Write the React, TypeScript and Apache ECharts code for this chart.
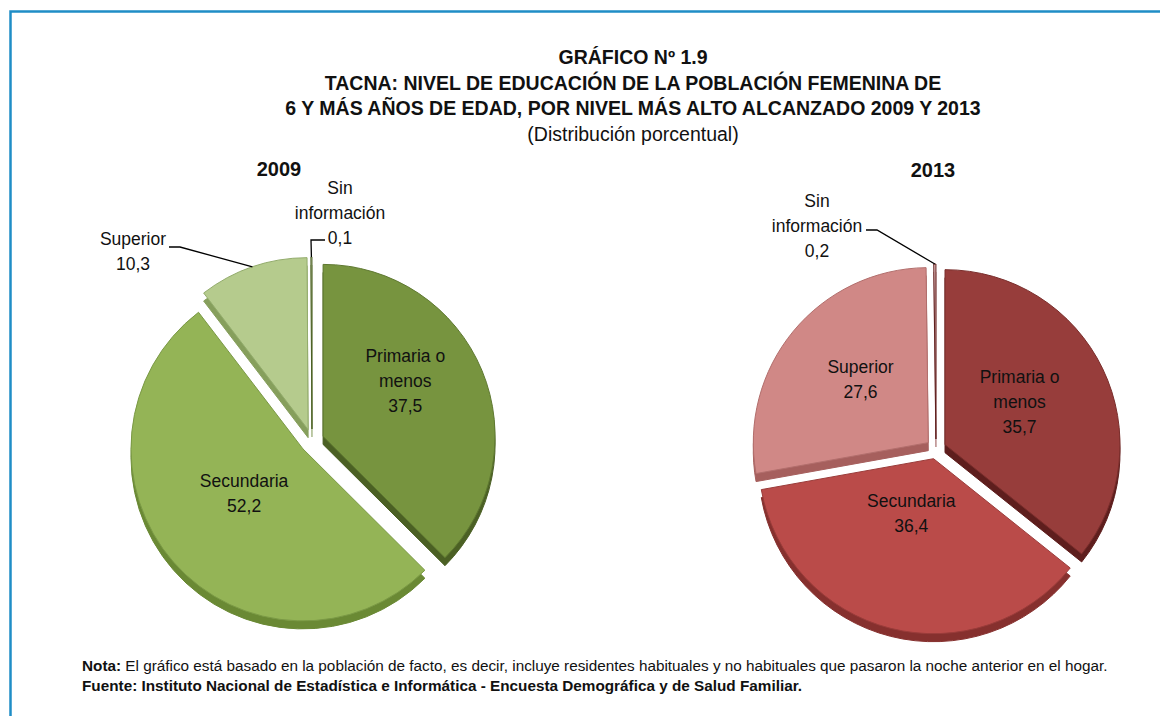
import React, { useEffect, useRef } from 'react';
import * as echarts from 'echarts';

// ---------------- data ----------------
const categories = ['Primaria o menos', 'Secundaria', 'Superior', 'Sin información'];
const sliceLabels = ['Primaria o\nmenos', 'Secundaria', 'Superior', 'Sin\ninformación'];
const years = ['2009', '2013'];
const values2009 = [37.5, 52.2, 10.3, 0.1];
const values2013 = [35.7, 36.4, 27.6, 0.2];

const titleLines = [
  'GRÁFICO Nº 1.9',
  'TACNA: NIVEL DE EDUCACIÓN DE LA POBLACIÓN FEMENINA DE',
  '6 Y MÁS AÑOS DE EDAD, POR NIVEL MÁS ALTO ALCANZADO 2009 Y 2013',
];
const subtitle = '(Distribución porcentual)';
const noteLabel = 'Nota:';
const noteText =
  ' El gráfico está basado en la población de facto, es decir, incluye residentes habituales y no habituales que pasaron la noche anterior en el hogar.';
const sourceText =
  'Fuente: Instituto Nacional de Estadística e Informática - Encuesta Demográfica y de Salud Familiar.';

// ---------------- styles / layout ----------------
const FONT = '"Liberation Sans", Arial, Helvetica, sans-serif';

type Callout = { pos: number[]; bend: number[]; end: number[] };

const pies = [
  {
    values: values2009,
    top: ['#77943F', '#94B456', '#B5CB8D', '#DCE6C8'],
    side: ['#4B6024', '#6A8934', '#869F5C', '#A8B88A'],
    border: ['#5E7830', '#7A9945', '#93AC6C', '#4B6024'],
    center: [312, 441],
    radius: 172,
    offset: 12,
    inside: { 0: [0, -21], 1: [8, -14] } as Record<number, number[]>,
    outside: {
      2: { pos: [133, 251], bend: [180, 247], end: [169, 247] },
      3: { pos: [340, 213], bend: [311, 240], end: [325, 240] },
    } as Record<number, Callout>,
    heading: [279, 169],
  },
  {
    values: values2013,
    top: ['#973D3B', '#BA4B49', '#D08886', '#E8C0BF'],
    side: ['#5E1E1D', '#86302E', '#A65F5D', '#B88A8A'],
    border: ['#7A2E2C', '#9A3C3A', '#B26E6C', '#5E1E1D'],
    center: [936, 449],
    radius: 175,
    offset: 10,
    inside: { 0: [-7, -3], 1: [0, -33], 2: [2, -6] } as Record<number, number[]>,
    outside: {
      3: { pos: [817, 226], bend: [877, 230], end: [866, 230] },
    } as Record<number, Callout>,
    heading: [933, 170],
  },
];

const fmt = (v: number) => v.toFixed(1).replace('.', ',');
const labelText = (i: number, v: number) => `${sliceLabels[i]}\n${fmt(v)}`;

const labelFont = {
  fontFamily: FONT,
  fontSize: 17.5,
  lineHeight: 25,
  color: '#111',
};

function buildSeries() {
  const series: any[] = [];
  pies.forEach((p, k) => {
    // depth (3D side) layer
    series.push({
      type: 'pie',
      name: years[k] + '-depth',
      center: [p.center[0], p.center[1] + 8],
      radius: p.radius,
      startAngle: 90,
      clockwise: true,
      selectedMode: 'multiple',
      selectedOffset: p.offset,
      silent: true,
      z: 1,
      label: { show: false },
      labelLine: { show: false },
      emphasis: { disabled: true },
      data: p.values.map((v, i) => ({
        name: categories[i],
        value: v,
        selected: true,
        itemStyle: { color: p.side[i], borderColor: p.side[i], borderWidth: 1 },
      })),
    });
    // top face layer
    series.push({
      type: 'pie',
      name: years[k],
      center: p.center,
      radius: p.radius,
      startAngle: 90,
      clockwise: true,
      selectedMode: 'multiple',
      selectedOffset: p.offset,
      avoidLabelOverlap: false,
      z: 2,
      emphasis: { disabled: true },
      label: {
        show: true,
        position: 'inside',
        align: 'center',
        ...labelFont,
        formatter: (prm: any) => labelText(prm.dataIndex, prm.value),
      },
      labelLine: { show: false },
      labelLayout: (prm: any) => {
        const d = p.inside[prm.dataIndex];
        return d ? { dx: d[0], dy: d[1] } : {};
      },
      data: p.values.map((v, i) => ({
        name: categories[i],
        value: v,
        selected: true,
        itemStyle: { color: p.top[i], borderColor: p.border[i], borderWidth: 1 },
        label: { show: p.outside[i] == null },
      })),
    });
    // callout layer (labels with leader lines for the thin slices)
    series.push({
      type: 'pie',
      name: years[k] + '-callouts',
      center: p.center,
      radius: p.radius + p.offset,
      startAngle: 90,
      clockwise: true,
      silent: true,
      avoidLabelOverlap: false,
      z: 3,
      emphasis: { disabled: true },
      itemStyle: { color: 'rgba(0,0,0,0)', borderWidth: 0 },
      label: {
        show: true,
        position: 'outside',
        ...labelFont,
        formatter: (prm: any) => labelText(prm.dataIndex, prm.value),
      },
      labelLine: { show: true, length: 10, length2: 8, lineStyle: { color: '#000', width: 1.3 } },
      labelLayout: (prm: any) => {
        const c = p.outside[prm.dataIndex];
        if (!c) return {};
        const pts = prm.labelLinePoints;
        const start = pts && pts[0] ? pts[0] : c.bend;
        return {
          x: c.pos[0],
          y: c.pos[1],
          align: 'center',
          verticalAlign: 'middle',
          labelLinePoints: [start, c.bend, c.end],
        };
      },
      data: p.values.map((v, i) => {
        const on = p.outside[i] != null;
        return {
          name: categories[i],
          value: v,
          label: { show: on },
          labelLine: { show: on },
        };
      }),
    });
  });
  return series;
}

function buildGraphics() {
  const g: any[] = [];
  g.push({
    type: 'polyline',
    shape: { points: [[1160, 11.5], [10.5, 11.5], [10.5, 716]] },
    style: { stroke: '#1F8DC6', lineWidth: 2.5, fill: null },
    silent: true,
  });
  const ys = [57, 83, 108];
  titleLines.forEach((t, i) => {
    g.push({
      type: 'text',
      x: 633,
      y: ys[i],
      style: {
        text: t,
        fontFamily: FONT,
        fontWeight: 'bold',
        fontSize: 19.5,
        fill: '#111',
        align: 'center',
        verticalAlign: 'middle',
      },
    });
  });
  g.push({
    type: 'text',
    x: 633,
    y: 134,
    style: {
      text: subtitle,
      fontFamily: FONT,
      fontSize: 19.5,
      fill: '#111',
      align: 'center',
      verticalAlign: 'middle',
    },
  });
  pies.forEach((p, k) => {
    g.push({
      type: 'text',
      x: p.heading[0],
      y: p.heading[1],
      style: {
        text: years[k],
        fontFamily: FONT,
        fontWeight: 'bold',
        fontSize: 20,
        fill: '#111',
        align: 'center',
        verticalAlign: 'middle',
      },
    });
  });
  g.push({
    type: 'text',
    x: 82,
    y: 665,
    style: {
      text: `{b|${noteLabel}}${noteText}`,
      fontFamily: FONT,
      fontSize: 15.3,
      fill: '#111',
      align: 'left',
      verticalAlign: 'middle',
      rich: { b: { fontFamily: FONT, fontSize: 15.3, fontWeight: 'bold', fill: '#111' } },
    },
  });
  g.push({
    type: 'text',
    x: 82,
    y: 685,
    style: {
      text: sourceText,
      fontFamily: FONT,
      fontWeight: 'bold',
      fontSize: 15.3,
      fill: '#111',
      align: 'left',
      verticalAlign: 'middle',
    },
  });
  return g;
}

export default function App() {
  const ref = useRef<HTMLDivElement>(null);
  useEffect(() => {
    if (!ref.current) return;
    const chart = echarts.init(ref.current, undefined, { renderer: 'svg' });
    chart.setOption({
      animation: false,
      backgroundColor: '#ffffff',
      series: buildSeries(),
      graphic: buildGraphics(),
    });
    return () => chart.dispose();
  }, []);
  return (
    <div
      ref={ref}
      style={{ position: 'absolute', left: 0, top: 0, width: 1160, height: 716, background: '#fff' }}
    />
  );
}
